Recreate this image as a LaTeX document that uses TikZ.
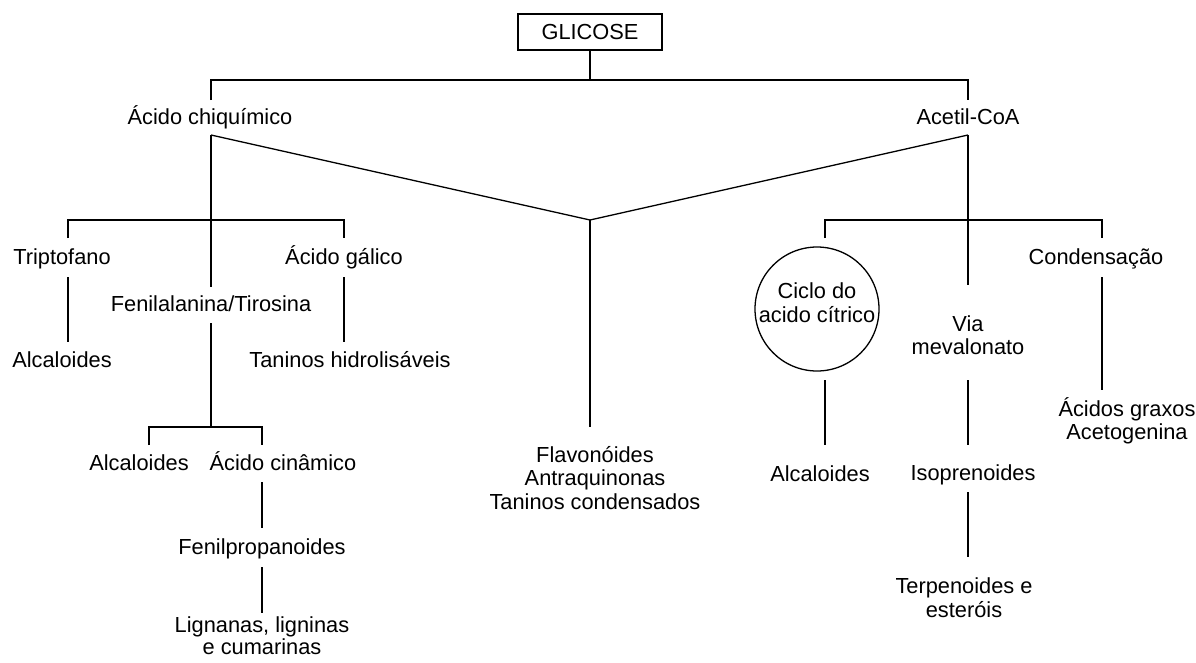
\documentclass[tikz,border=0pt]{standalone}
\usepackage{fontspec}
\setmainfont{Liberation Sans}
\begin{document}
\begin{tikzpicture}[x=1pt,y=-1pt,
  lbl/.style={inner sep=0pt, font=\fontsize{21.8}{23.5}\selectfont, anchor=base},
  mlbl/.style={inner sep=0pt, font=\fontsize{21.8}{23.5}\selectfont, align=center, anchor=center},
  conn/.style={draw=black, line width=1.3pt}]
\useasboundingbox (0,0) rectangle (1196,662);

% nodes
\node[draw, line width=1.2pt, minimum width=144pt, minimum height=36pt, inner sep=0pt,
      font=\fontsize{21.8}{23.5}\selectfont] (glic) at (590,32) {GLICOSE};
\node[lbl] (chiq) at (210,124) {Ácido chiquímico};
\node[lbl] (acet) at (968,124) {Acetil-CoA};
\node[lbl] (trip) at (62,264) {Triptofano};
\node[lbl] (galico) at (344,264) {Ácido gálico};
\node[lbl] (fenil) at (211,311) {Fenilalanina/Tirosina};
\node[lbl] (alc1) at (62,367) {Alcaloides};
\node[lbl] (tanh) at (350,367) {Taninos hidrolisáveis};
\node[lbl] (alc2) at (139,470) {Alcaloides};
\node[lbl] (cin) at (283,470) {Ácido cinâmico};
\node[lbl] (fprop) at (262,554) {Fenilpropanoides};
\node[mlbl, font=\fontsize{21.8}{22}\selectfont] (lign) at (262,636) {Lignanas, ligninas\\e cumarinas};
\node[mlbl] (flav) at (595,478) {Flavonóides\\Antraquinonas\\Taninos condensados};
\node[draw, circle, line width=1.3pt, minimum size=124pt, inner sep=0pt] (circ) at (817,309) {};
\node[mlbl] (ciclo) at (817,302.5) {Ciclo do\\acido cítrico};
\node[mlbl] (via) at (968,335) {Via\\mevalonato};
\node[lbl] (alc3) at (820,481) {Alcaloides};
\node[lbl] (iso) at (973,480) {Isoprenoides};
\node[mlbl] (terp) at (964,597.5) {Terpenoides e\\esteróis};
\node[lbl] (cond) at (1096,264) {Condensação};
\node[mlbl] (acg) at (1127,421) {Ácidos graxos\\Acetogenina};

% connector end points
\coordinate (jtop) at (590,80);
\coordinate (jmid) at (590,220);
\coordinate (chiqT) at (211,100);
\coordinate (acetT) at (968,100);
\coordinate (chiqB) at (211,135);
\coordinate (acetB) at (968,135);
\coordinate (flavT) at (590,427);
\coordinate (fenT) at (211,287);
\coordinate (viaT) at (968,285);
\coordinate (lbar) at (211,220);
\coordinate (tripT) at (68,238);
\coordinate (galT) at (344,238);
\coordinate (rbar) at (968,220);
\coordinate (cicT) at (825,238);
\coordinate (condT) at (1102,238);
\coordinate (tripB) at (68,277);
\coordinate (alc1T) at (68,342);
\coordinate (galB) at (344,277);
\coordinate (tanT) at (344,342);
\coordinate (fenB) at (211,323);
\coordinate (fbar) at (211,427);
\coordinate (alc2T) at (149,445);
\coordinate (cinT) at (262,445);
\coordinate (cinB) at (262,482);
\coordinate (fpropT) at (262,528);
\coordinate (fpropB) at (262,567);
\coordinate (lignT) at (262,613);
\coordinate (condB) at (1102,277);
\coordinate (acgT) at (1102,390);
\coordinate (circB) at (825,380);
\coordinate (alc3T) at (825,445);
\coordinate (viaB) at (968,380);
\coordinate (isoT) at (968,445);
\coordinate (isoB) at (968,492);
\coordinate (terpT) at (968,557);

% connectors
\draw[conn] (glic.south) -- (jtop);
\draw[conn] (chiqT) |- (jtop) -| (acetT);
\draw[conn] (chiqB) -- (jmid) -- (acetB);
\draw[conn] (jmid) -- (flavT);
\draw[conn] (chiqB) -- (fenT);
\draw[conn] (acetB) -- (viaT);
\draw[conn] (tripT) |- (lbar) -| (galT);
\draw[conn] (cicT) |- (rbar) -| (condT);
\draw[conn] (tripB) -- (alc1T);
\draw[conn] (galB) -- (tanT);
\draw[conn] (fenB) -- (fbar);
\draw[conn] (alc2T) |- (fbar) -| (cinT);
\draw[conn] (cinB) -- (fpropT);
\draw[conn] (fpropB) -- (lignT);
\draw[conn] (condB) -- (acgT);
\draw[conn] (circB) -- (alc3T);
\draw[conn] (viaB) -- (isoT);
\draw[conn] (isoB) -- (terpT);
\end{tikzpicture}
\end{document}
